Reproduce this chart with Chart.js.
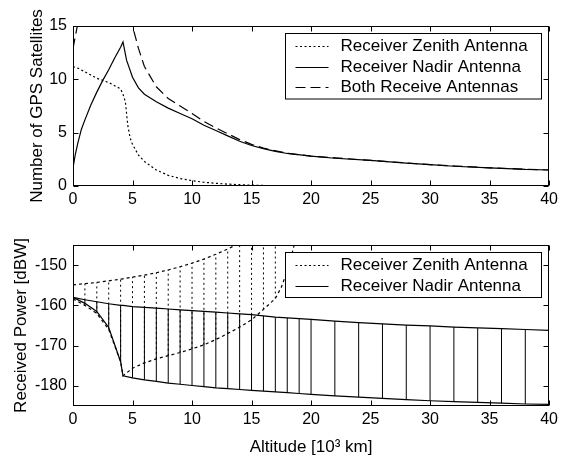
<!DOCTYPE html>
<html>
<head>
<meta charset="utf-8">
<script src="https://cdn.jsdelivr.net/npm/chart.js@4.4.1/dist/chart.umd.min.js"></script>
<style>
  html, body { margin: 0; padding: 0; background: #fff; }
  #wrap { position: relative; width: 562px; height: 458px; }
  #topChart { position: absolute; left: 0; top: 0; }
  #botChart { position: absolute; left: 0; top: 215px; }
</style>
</head>
<body>
<div id="wrap">
  <canvas id="topChart" width="562" height="215"></canvas>
  <canvas id="botChart" width="562" height="243"></canvas>
</div>
<script>
// Oberes Diagramm: Anzahl sichtbarer GPS-Satelliten
let zenithTopAlt = [0,0.5,1,1.5,2,2.5,3,3.5,4,4.2,4.4,4.6,4.8,5,5.5,6,7,8,9,10,11,12,13,14,15,16,18,20];
let zenithTopSats = [11.2,11.0,10.7,10.4,10.1,9.9,9.7,9.4,9.1,8.6,7.9,5.7,4.5,3.9,2.9,2.3,1.5,1.0,0.7,0.5,0.35,0.25,0.18,0.12,0.08,0.05,0.02,0];

let nadirTopAlt = [0,0.2,0.4,0.7,1,1.5,2,2.5,3,3.5,4,4.2,4.5,5,5.5,6,7,8,9,10,11,12,13,14,15,16,17,18,20,22,25,28,30,32,35,38,40];
let nadirTopSats = [1.7,3.0,4.0,5.3,6.2,7.6,8.8,9.9,10.9,12.0,13.0,13.5,11.8,10.2,9.2,8.6,7.9,7.3,6.8,6.3,5.7,5.2,4.7,4.2,3.8,3.5,3.25,3.05,2.8,2.6,2.4,2.15,2.0,1.85,1.7,1.55,1.5];

let bothTopAlt = [0,0.5,1,2,3,4,4.2,4.5,5,5.5,6,7,8,9,10,11,12,13,14,15,16,18,20,25,30,35,40];
let bothTopSats = [12.9,15.8,17,18.9,20.6,22.1,22.1,18.3,15.0,12.9,11.2,9.3,8.2,7.5,6.8,6.05,5.45,4.9,4.35,3.9,3.55,3.07,2.8,2.4,2.0,1.7,1.5];

// Unteres Diagramm: Empfangsleistung [dBW]
let zenithPowAlt = [0,1,2,3,4,4.2,5,6,7,8,9,10,11,12,13,14,15,16,17,17.5,18,18.5,19];
let zenithPowUpper = [-154.9,-154.6,-154.3,-153.9,-153.5,-153.4,-153,-152.5,-151.9,-151.2,-150.4,-149.5,-148.5,-147.3,-146,-144.5,-143,-141.3,-139.5,-138.5,-137.5,-136.5,-135.5];
let zenithPowLower = [-158.4,-160,-162,-166,-174,-177.5,-175.6,-174.3,-173.3,-172.5,-171.7,-170.8,-169.8,-168.5,-167,-165.4,-163.6,-161,-158.3,-155.5,-151.5,-146,-140];

let nadirPowAlt = [0,1,2,3,4,4.2,5,6,7,8,9,10,11,12,13,14,15,16,17,18,19,20,22,24,26,28,30,32,34,36,38,40];
let nadirPowUpper = [-158,-158.6,-159.1,-159.6,-160,-160,-160.3,-160.5,-160.7,-160.9,-161.1,-161.3,-161.5,-161.7,-161.9,-162.1,-162.3,-162.6,-162.9,-163.1,-163.3,-163.5,-163.9,-164.3,-164.6,-164.9,-165.1,-165.4,-165.6,-165.8,-166,-166.2];
let nadirPowLower = [-158,-159.5,-161.5,-165.5,-174,-177.5,-178,-178.5,-178.9,-179.3,-179.6,-179.9,-180.2,-180.5,-180.7,-180.9,-181.1,-181.3,-181.5,-181.7,-181.9,-182.1,-182.5,-182.8,-183.1,-183.4,-183.7,-183.9,-184.1,-184.3,-184.5,-184.6];

let altTicks = [0,5,10,15,20,25,30,35,40];
let satTicks = [0,5,10,15];
let powTicks = [-180,-170,-160,-150];

let FONT = "'Liberation Sans', Arial, sans-serif";
Chart.defaults.font.family = FONT;
Chart.defaults.font.size = 16;
Chart.defaults.color = "#000";

// Hilfsfunktionen
function pts(xs, ys) {
    return xs.map((x, i) => ({ x: x, y: ys[i] }));
}
function hatch(xs, lo, hi, keep) {
    let out = [];
    xs.forEach((x, i) => {
        if (keep(x)) out.push({ x: x, y: lo[i] }, { x: x, y: hi[i] }, { x: x, y: null });
    });
    return out;
}
function line(data, dash, width) {
    return {
        data: data, borderColor: "#000", borderWidth: width || 1.2, borderDash: dash || [],
        pointRadius: 0, tension: 0, spanGaps: false, fill: false
    };
}

// Rahmen und innenliegende Ticks wie in MATLAB
let framePlugin = {
    id: "frame",
    afterDatasetsDraw(chart) {
        let { ctx, chartArea: a, scales } = chart;
        ctx.save();
        ctx.strokeStyle = "#000";
        ctx.lineWidth = 1;
        let l = Math.round(a.left) + 0.5, r = Math.round(a.right) - 0.5;
        let t = Math.round(a.top) + 0.5, b = Math.round(a.bottom) - 0.5;
        ctx.strokeRect(l, t, r - l, b - t);
        ctx.beginPath();
        scales.x.ticks.forEach((tk) => {
            let px = Math.round(scales.x.getPixelForValue(tk.value)) + 0.5;
            ctx.moveTo(px, b); ctx.lineTo(px, b - 5);
            ctx.moveTo(px, t); ctx.lineTo(px, t + 5);
        });
        scales.y.ticks.forEach((tk) => {
            let py = Math.round(scales.y.getPixelForValue(tk.value)) + 0.5;
            ctx.moveTo(l, py); ctx.lineTo(l + 5, py);
            ctx.moveTo(r, py); ctx.lineTo(r - 5, py);
        });
        ctx.stroke();
        ctx.restore();
    }
};

// Legende innerhalb der Achsen
let boxLegend = {
    id: "boxLegend",
    afterDraw(chart, args, opts) {
        let items = opts.items || [];
        if (!items.length) return;
        let { ctx, chartArea: a } = chart;
        let left = Math.round(a.right) - 263.5, right = Math.round(a.right) - 7.5;
        let top = Math.round(a.top) + 7.5, h = items.length * 20.5 + 4;
        ctx.save();
        ctx.fillStyle = "#fff";
        ctx.fillRect(left, top, right - left, h);
        ctx.strokeStyle = "#000";
        ctx.lineWidth = 1;
        ctx.strokeRect(left, top, right - left, h);
        ctx.font = "17px " + FONT;
        ctx.textBaseline = "middle";
        items.forEach((it, i) => {
            let y = Math.round(top + 12.5 + i * 20.5) + 0.5;
            ctx.setLineDash(it.dash);
            ctx.lineWidth = 1.2;
            ctx.beginPath();
            ctx.moveTo(left + 10, y);
            ctx.lineTo(left + 43, y);
            ctx.stroke();
            ctx.setLineDash([]);
            ctx.fillStyle = "#000";
            ctx.fillText(it.label, left + 55, y);
        });
        ctx.restore();
    }
};

function xScale(height, title) {
    return {
        type: "linear", min: 0, max: 40,
        afterBuildTicks: (s) => { s.ticks = altTicks.map((v) => ({ value: v })); },
        afterFit: (s) => { s.height = height; },
        grid: { display: false, drawTicks: false }, border: { display: false },
        ticks: { padding: 4, maxRotation: 0 },
        title: title ? { display: true, text: title, font: { size: 17 }, padding: { top: 0, bottom: 0 } } : { display: false }
    };
}
function yScale(min, max, ticks, title, titlePad) {
    return {
        type: "linear", min: min, max: max,
        afterBuildTicks: (s) => { s.ticks = ticks.map((v) => ({ value: v })); },
        afterFit: (s) => { s.width = 73; },
        grid: { display: false, drawTicks: false }, border: { display: false },
        ticks: { padding: 6 },
        title: { display: true, text: title, font: { size: 17 }, padding: { top: titlePad, bottom: 0 } }
    };
}

// Oberes Diagramm
new Chart(document.getElementById("topChart"), {
    type: "line",
    data: {
        datasets: [
            line(pts(zenithTopAlt, zenithTopSats), [2, 2.5]),
            line(pts(nadirTopAlt, nadirTopSats)),
            line(pts(bothTopAlt, bothTopSats), [10, 5])
        ]
    },
    options: {
        responsive: false, animation: false,
        layout: { padding: { top: 26, right: 12, left: 0, bottom: 0 } },
        plugins: {
            legend: { display: false }, tooltip: { enabled: false },
            boxLegend: {
                items: [
                    { label: "Receiver Zenith Antenna", dash: [2, 2.5] },
                    { label: "Receiver Nadir Antenna", dash: [] },
                    { label: "Both Receive Antennas", dash: [10, 5] }
                ]
            }
        },
        scales: {
            x: xScale(29, null),
            y: yScale(0, 15, satTicks, "Number of GPS Satellites", 27)
        }
    },
    plugins: [framePlugin, boxLegend]
});

// Unteres Diagramm
new Chart(document.getElementById("botChart"), {
    type: "line",
    data: {
        datasets: [
            line(hatch(zenithPowAlt, zenithPowLower, zenithPowUpper, (x) => Number.isInteger(x) && x <= 17), [2, 3], 1),
            line(hatch(nadirPowAlt, nadirPowLower, nadirPowUpper, (x) => Number.isInteger(x) && x > 0 && x < 40), [], 1),
            line(pts(zenithPowAlt, zenithPowUpper), [3, 3]),
            line(pts(zenithPowAlt, zenithPowLower), [3, 3]),
            line(pts(nadirPowAlt, nadirPowUpper)),
            line(pts(nadirPowAlt, nadirPowLower))
        ]
    },
    options: {
        responsive: false, animation: false,
        layout: { padding: { top: 30, right: 12, left: 0, bottom: 0 } },
        plugins: {
            legend: { display: false }, tooltip: { enabled: false },
            boxLegend: {
                items: [
                    { label: "Receiver Zenith Antenna", dash: [2, 2.5] },
                    { label: "Receiver Nadir Antenna", dash: [] }
                ]
            }
        },
        scales: {
            x: xScale(52, "Altitude [10³ km]"),
            y: yScale(-185, -145, powTicks, "Received Power [dBW]", 11)
        }
    },
    plugins: [framePlugin, boxLegend]
});
</script>
</body>
</html>
